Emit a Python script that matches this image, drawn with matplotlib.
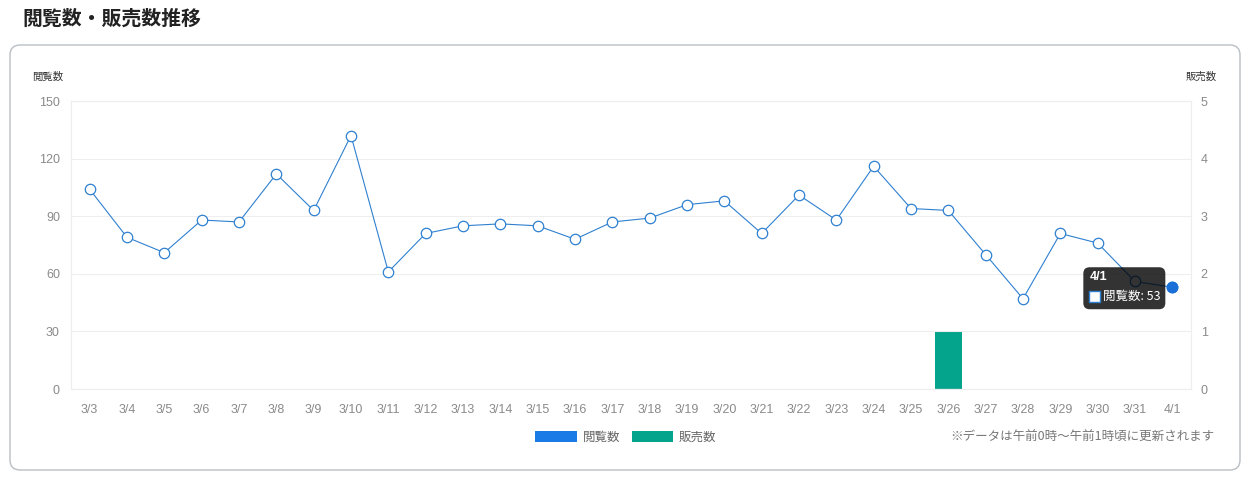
import matplotlib
matplotlib.use("Agg")
import matplotlib.pyplot as plt
from matplotlib.patches import FancyBboxPatch, Patch, Rectangle
import numpy as np

plt.rcParams['font.family'] = ['Noto Sans CJK JP', 'DejaVu Sans']

dates = ["3/3", "3/4", "3/5", "3/6", "3/7", "3/8", "3/9", "3/10", "3/11", "3/12",
         "3/13", "3/14", "3/15", "3/16", "3/17", "3/18", "3/19", "3/20", "3/21", "3/22",
         "3/23", "3/24", "3/25", "3/26", "3/27", "3/28", "3/29", "3/30", "3/31", "4/1"]
views = [104, 79, 71, 88, 87, 112, 93, 132, 61, 81,
         85, 86, 85, 78, 87, 89, 96, 98, 81, 101,
         88, 116, 94, 93, 70, 47, 81, 76, 56, 53]
sales = [0, 0, 0, 0, 0, 0, 0, 0, 0, 0,
         0, 0, 0, 0, 0, 0, 0, 0, 0, 0,
         0, 0, 0, 1, 0, 0, 0, 0, 0, 0]
left_ticks = [0, 30, 60, 90, 120, 150]
right_ticks = [0, 1, 2, 3, 4, 5]
hover_index = 29

line_color = "#2f80d0"
legend_blue = "#1a7ae6"
bar_color = "#04a38b"
grid_color = "#eeeeee"
tick_color = "#8a8a8a"
tick_font = "Liberation Sans"

W, H = 1254, 480
fig = plt.figure(figsize=(W / 100, H / 100), dpi=100)

# card
card = FancyBboxPatch((10 / W, 1 - 470 / H), 1230 / W, 425 / H,
                      boxstyle="round,pad=0,rounding_size=0.008",
                      transform=fig.transFigure, facecolor="white",
                      edgecolor="#b9bfc4", linewidth=1.0, mutation_aspect=W / H,
                      zorder=-10)
fig.patches.append(card)

fig.text(22 / W, 1 - 18 / H, "閲覧数・販売数推移", fontsize=14.3, fontweight="bold",
         color="#222222", va="center", ha="left")

ax = fig.add_axes([71 / W, 1 - 389 / H, 1120 / W, 288 / H])
ax2 = ax.twinx()

x = np.arange(len(dates))
ax2.bar(x, sales, width=0.72, color=bar_color, zorder=2)
ax.plot(x, views, color=line_color, linewidth=0.8, marker="o", markersize=7.5,
        markerfacecolor="white", markeredgecolor=line_color, markeredgewidth=0.9, zorder=3)
ax.plot([x[hover_index]], [views[hover_index]], marker="o", markersize=7.5,
        color="#1a6fd8", linestyle="none", zorder=4)

ax.set_zorder(ax2.get_zorder() + 1)
ax.patch.set_visible(False)
ax2.patch.set_visible(False)

ax.set_xlim(-0.5, len(dates) - 0.5)
ax.set_ylim(0, 150)
ax2.set_ylim(0, 5)
ax.set_yticks(left_ticks)
ax2.set_yticks(right_ticks)
ax.set_xticks(x)
ax.set_xticklabels(dates)
ax.grid(axis="y", color=grid_color, linewidth=0.8)
ax.set_axisbelow(True)

for a in (ax, ax2):
    for s in a.spines.values():
        s.set_color(grid_color)
        s.set_linewidth(0.8)
ax.tick_params(axis="y", length=0, pad=8, labelsize=9, labelcolor=tick_color)
ax.tick_params(axis="x", length=0, pad=11, labelsize=9, labelcolor=tick_color)
ax2.tick_params(axis="y", length=0, pad=7, labelsize=9, labelcolor=tick_color)
for lbl in ax.get_xticklabels() + ax.get_yticklabels() + ax2.get_yticklabels():
    lbl.set_fontfamily([tick_font, 'DejaVu Sans'])

fig.text(48 / W, 1 - 77 / H, "閲覧数", fontsize=7.5, color="#333333", ha="center", va="center")
fig.text(1201 / W, 1 - 77 / H, "販売数", fontsize=7.5, color="#333333", ha="center", va="center")

# legend
handles = [Patch(facecolor=legend_blue, edgecolor="none", label="閲覧数"),
           Patch(facecolor=bar_color, edgecolor="none", label="販売数")]
fig.legend(handles=handles, loc="center", bbox_to_anchor=(626 / W, 1 - 437 / H),
           ncol=2, frameon=False, fontsize=9, handlelength=3.3, handleheight=0.95,
           handletextpad=0.5, columnspacing=0.9, labelcolor="#666666")

fig.text(1214 / W, 1 - 437 / H, "※データは午前0時～午前1時頃に更新されます", fontsize=9,
         color="#777777", ha="right", va="center")

# tooltip
px, py = ax.transData.transform((x[hover_index], views[hover_index]))
inv = fig.transFigure.inverted()
def fc(dx, dy):
    return inv.transform((px + dx, py + dy))
bx0, by0 = fc(-89, -22)
bx1, by1 = fc(-7, 20)
tip = FancyBboxPatch((bx0, by0), bx1 - bx0, by1 - by0,
                     boxstyle="round,pad=0,rounding_size=0.005",
                     transform=fig.transFigure, facecolor="black", alpha=0.8,
                     edgecolor="none", mutation_aspect=W / H, zorder=10)
fig.patches.append(tip)
tx, ty = fc(-83, 10)
fig.text(tx, ty, dates[hover_index], fontsize=9, fontweight="bold", color="white",
         ha="left", va="center", zorder=11, family=[tick_font, 'DejaVu Sans'])
sx0, sy0 = fc(-83, -15)
sx1, sy1 = fc(-72, -4)
sq = Rectangle((sx0, sy0), sx1 - sx0, sy1 - sy0, transform=fig.transFigure,
               facecolor="white", edgecolor=line_color, linewidth=1.0, zorder=11)
fig.patches.append(sq)
lx, ly = fc(-69, -9)
fig.text(lx, ly, f"閲覧数: {views[hover_index]}", fontsize=9, color="white",
         ha="left", va="center", zorder=11)

fig.savefig("out.png", dpi=100, facecolor="white")
